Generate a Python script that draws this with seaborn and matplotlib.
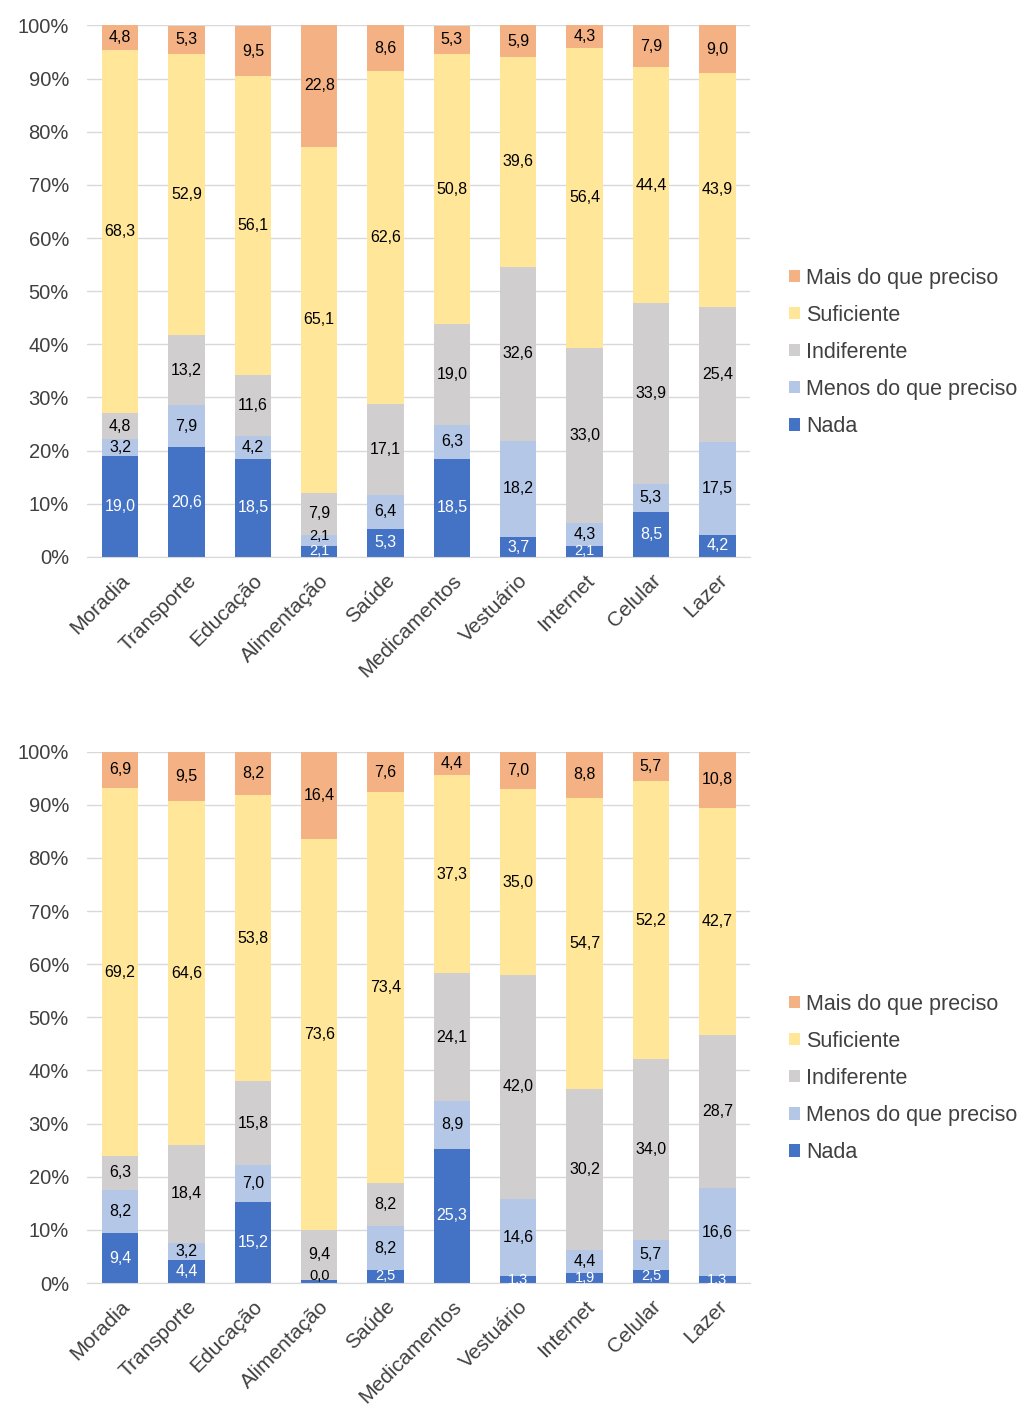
import matplotlib
matplotlib.use("Agg")
import matplotlib.pyplot as plt
from matplotlib.patches import Patch
import numpy as np
import pandas as pd
import seaborn as sns

categorias = ["Moradia", "Transporte", "Educação", "Alimentação", "Saúde",
              "Medicamentos", "Vestuário", "Internet", "Celular", "Lazer"]
series = ["Nada", "Menos do que preciso", "Indiferente", "Suficiente", "Mais do que preciso"]
cores = ["#4472C4", "#B4C7E7", "#D0CECE", "#FFE699", "#F4B183"]

# grafico de cima
nada_1 = [19.0, 20.6, 18.5, 2.1, 5.3, 18.5, 3.7, 2.1, 8.5, 4.2]
menos_1 = [3.2, 7.9, 4.2, 2.1, 6.4, 6.3, 18.2, 4.3, 5.3, 17.5]
indif_1 = [4.8, 13.2, 11.6, 7.9, 17.1, 19.0, 32.6, 33.0, 33.9, 25.4]
sufic_1 = [68.3, 52.9, 56.1, 65.1, 62.6, 50.8, 39.6, 56.4, 44.4, 43.9]
mais_1 = [4.8, 5.3, 9.5, 22.8, 8.6, 5.3, 5.9, 4.3, 7.9, 9.0]

# grafico de baixo
nada_2 = [9.4, 4.4, 15.2, 0.6, 2.5, 25.3, 1.3, 1.9, 2.5, 1.3]
menos_2 = [8.2, 3.2, 7.0, 0.0, 8.2, 8.9, 14.6, 4.4, 5.7, 16.6]
indif_2 = [6.3, 18.4, 15.8, 9.4, 8.2, 24.1, 42.0, 30.2, 34.0, 28.7]
sufic_2 = [69.2, 64.6, 53.8, 73.6, 73.4, 37.3, 35.0, 54.7, 52.2, 42.7]
mais_2 = [6.9, 9.5, 8.2, 16.4, 7.6, 4.4, 7.0, 8.8, 5.7, 10.8]

yticks = [0, 10, 20, 30, 40, 50, 60, 70, 80, 90, 100]

sns.set_style("white")
plt.rcParams['font.family'] = ['Liberation Sans', 'DejaVu Sans']


def stacked(ax, dados):
    df = pd.DataFrame(dict(zip(series, dados)), index=categorias)
    cum = df.cumsum(axis=1)
    # barras sobrepostas, da maior acumulada para a menor
    for s, c in reversed(list(zip(series, cores))):
        d = pd.DataFrame({"cat": categorias, "val": cum[s].values})
        sns.barplot(data=d, x="cat", y="val", color=c, width=0.55,
                    saturation=1, ax=ax, linewidth=0, zorder=2)
    for i, cat in enumerate(categorias):
        for j, s in enumerate(series):
            v = df.loc[cat, s]
            # fatia fina demais, rotulo some embaixo do outro (como no original)
            if j == 0 and v < 1:
                continue
            y = cum.loc[cat, s] - v / 2
            fs = 11.5
            # rotulos pequenos empilhados: sobe um pouco o de cima
            if j == 1 and v < 3 and df.loc[cat, "Nada"] < 3:
                y += 0.8
                fs = 10.5
            if j == 0 and v < 3:
                fs = 10.5
            cor_txt = "white" if s == "Nada" else "black"
            ax.text(i, y, f"{v:.1f}".replace(".", ","), ha="center", va="center",
                    fontsize=fs, color=cor_txt, zorder=3)
    ax.set_ylim(0, 100)
    ax.set_xlim(-0.5, 9.5)
    ax.set_yticks(yticks)
    ax.set_yticklabels([f"{t}%" for t in yticks], fontsize=14.5, color="#404040")
    ax.set_xticks(range(len(categorias)))
    ax.set_xticklabels(categorias, rotation=45, ha="right", rotation_mode="anchor",
                       fontsize=15, color="#404040")
    ax.tick_params(axis="y", length=0, pad=13)
    ax.tick_params(axis="x", length=0, pad=10)
    ax.yaxis.grid(True, color="#D9D9D9", linewidth=1, zorder=0)
    ax.set_axisbelow(True)
    for sp in ["top", "right", "left"]:
        ax.spines[sp].set_visible(False)
    ax.spines["bottom"].set_color("#D9D9D9")
    ax.set_xlabel("")
    ax.set_ylabel("")
    handles = [Patch(facecolor=c, edgecolor="none", label=s)
               for s, c in reversed(list(zip(series, cores)))]
    ax.legend(handles=handles, loc="center left", bbox_to_anchor=(1.045, 0.385),
              frameon=False, fontsize=15.5, handlelength=0.5, handleheight=0.5,
              handletextpad=0.3, labelspacing=0.75, borderaxespad=0,
              labelcolor="#404040")


fig = plt.figure(figsize=(10.27, 14.10), dpi=100)
ax1 = fig.add_axes([0.0847, 0.605, 0.646, 0.377])
ax2 = fig.add_axes([0.0847, 0.090, 0.646, 0.377])

stacked(ax1, [nada_1, menos_1, indif_1, sufic_1, mais_1])
stacked(ax2, [nada_2, menos_2, indif_2, sufic_2, mais_2])

fig.savefig("out.png", dpi=100)
